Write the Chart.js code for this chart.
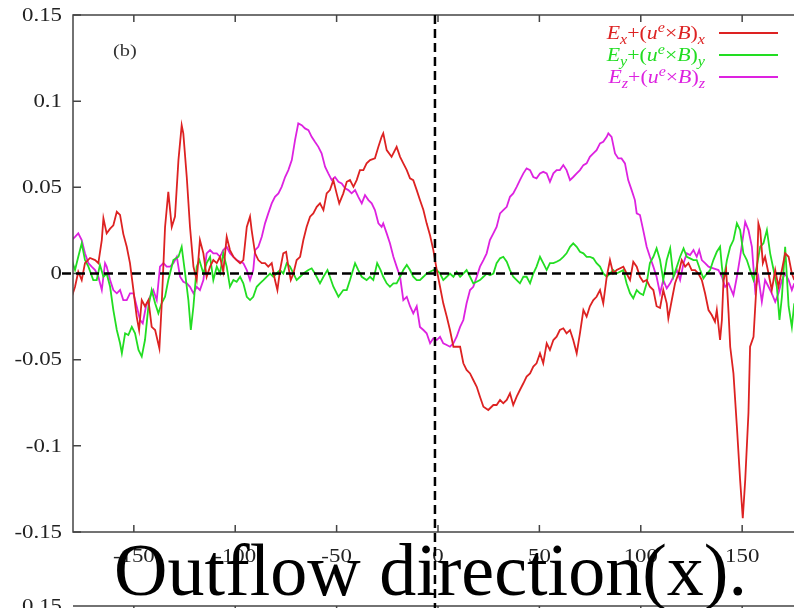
<!DOCTYPE html>
<html lang="en">
<head>
<meta charset="UTF-8">
<title>Outflow direction(x)</title>
<script src="https://cdn.jsdelivr.net/npm/chart.js"></script>
<style>
  html, body { margin: 0; padding: 0; overflow: hidden; background: #fff; }
  .wrap { position: relative; width: 810px; height: 608px; }
  .caption {
    position: absolute; left: 114px; top: 533px;
    font: 74px/1 "Liberation Serif", "Times New Roman", serif;
    color: #000; white-space: nowrap;
  }
</style>
</head>
<body>
<div class="wrap">
  <canvas id="c"></canvas>
  <div class="caption">Outflow direction(x).</div>
</div>
<script>
// ---- data ----
const xTicks = [-150, -100, -50, 0, 50, 100, 150];
const yTicks = [0.15, 0.1, 0.05, 0, -0.05, -0.1, -0.15];
const zeroMarkerX = -1.5;

const redX = [-180.6,-179.0,-177.4,-175.7,-174.1,-171.6,-169.1,-167.5,-165.8,-165.0,-163.4,-161.7,-160.1,-158.4,-156.8,-155.2,-153.5,-151.9,-150.2,-148.6,-147.4,-146.1,-144.5,-142.8,-141.2,-139.5,-137.4,-136.3,-134.6,-133.0,-131.3,-129.7,-128.0,-126.4,-125.6,-123.9,-122.3,-120.6,-119.0,-117.4,-115.7,-114.1,-112.4,-110.8,-109.1,-107.5,-105.9,-104.2,-102.6,-100.9,-99.3,-97.6,-96.0,-94.3,
  -92.7,-91.9,-90.2,-88.6,-86.9,-85.3,-83.7,-82.0,-80.4,-79.2,-77.9,-76.3,-74.9,-73.8,-72.6,-71.3,-69.7,-68.0,-66.4,-64.8,-63.1,-61.5,-59.8,-58.2,-56.5,-54.9,-53.3,-51.6,-50.0,-48.7,-46.7,-45.0,-43.4,-41.7,-40.1,-38.5,-36.8,-35.2,-33.5,-31.1,-29.4,-27.8,-27.0,-25.3,-22.9,-20.4,-18.7,-17.1,-15.4,-13.8,-12.2,-10.5,-8.9,-7.2,-5.6,
  -3.9,-2.3,-0.6,1.0,2.6,4.3,5.9,7.6,9.2,10.9,12.5,14.1,15.8,17.4,19.1,20.7,22.4,24.8,27.3,28.9,30.6,32.2,33.9,35.5,37.1,38.8,40.4,42.1,43.7,45.4,47.0,48.6,50.3,51.9,53.6,55.2,56.9,58.5,60.1,61.8,63.4,65.1,66.7,68.4,70.0,71.7,73.3,74.9,76.6,78.2,79.9,81.5,83.2,84.8,86.4,88.1,
  91.4,93.0,94.7,96.3,98.0,99.6,101.2,102.9,104.5,106.2,107.8,109.5,111.1,112.8,113.6,115.3,116.9,118.6,120.2,121.9,123.5,125.1,126.8,128.4,130.1,131.7,133.4,135.0,136.6,137.5,139.1,140.0,140.8,142.1,143.3,144.1,145.7,147.4,149.0,150.3,151.5,153.1,153.9,155.6,157.2,158.0,158.9,160.2,161.3,163.0,164.6,166.3,167.9,169.6,171.2,172.9,174.5,175.7];
const redY = [-0.0135,-0.0077,0.001,-0.0038,0.006,0.009,0.0078,0.006,0.0194,0.032,0.0233,0.026,0.028,0.0358,0.034,0.023,0.0155,0.006,-0.0096,-0.025,-0.0328,-0.0154,-0.019,-0.0154,-0.031,-0.0328,-0.0434,-0.019,0.027,0.0474,0.027,0.033,0.0658,0.086,0.0813,0.056,0.027,0.004,-0.0038,0.0194,0.0117,-0.0019,0.004,0.0078,0.006,0.0097,0.001,0.0213,0.0136,0.0097,0.0078,0.006,0.0078,0.027,
  0.033,0.0252,0.0117,0.0078,0.006,0.006,0.004,0.006,-0.0038,-0.0096,0.002,0.0117,0.0126,0.004,-0.0038,0,0.0078,0.0097,0.0194,0.027,0.033,0.0349,0.0387,0.0407,0.0368,0.0465,0.0484,0.0542,0.0465,0.0407,0.0465,0.0532,0.0542,0.0503,0.0542,0.06,0.06,0.0639,0.0658,0.0668,0.0735,0.0793,0.0813,0.0716,0.0677,0.0735,0.0677,0.0639,0.06,0.0552,0.0542,0.0484,0.0426,0.0368,0.0291,
  0.022,0.0136,0.002,-0.0077,-0.0173,-0.025,-0.0328,-0.0425,-0.0425,-0.0425,-0.0521,-0.056,-0.058,-0.0618,-0.0657,-0.0715,-0.0773,-0.0792,-0.0763,-0.0763,-0.0734,-0.0753,-0.0734,-0.0695,-0.0763,-0.0715,-0.0676,-0.0637,-0.0598,-0.058,-0.054,-0.0521,-0.0463,-0.0521,-0.0405,-0.0444,-0.0386,-0.0367,-0.0328,-0.0318,-0.0347,-0.0328,-0.0386,-0.0463,-0.0347,-0.0212,-0.025,-0.019,-0.0154,-0.0135,-0.0096,-0.0173,-0.0019,0.0078,0,0.002,
  0.004,0,-0.0038,0.0068,0.004,-0.0019,-0.0048,-0.0038,-0.0077,-0.0096,-0.019,-0.02,-0.0096,-0.0173,-0.026,-0.0154,-0.0057,0,0.0078,0.004,0.006,0.002,0.002,0,-0.0038,-0.0115,-0.0212,-0.0241,-0.028,-0.0212,-0.0386,-0.027,-0.0038,0.002,-0.0231,-0.0425,-0.058,-0.0889,-0.12,-0.142,-0.12,-0.081,-0.0425,-0.0367,-0.0038,0.0291,0.0252,0.006,0.0097,0,-0.0096,0.002,-0.0077,0.002,0.0117,0.0097,0,-0.0038];

const greenX = [-180.6,-179.0,-177.4,-175.7,-174.1,-172.4,-170.0,-168.3,-166.7,-165.0,-163.4,-161.7,-160.1,-158.4,-156.8,-155.9,-154.3,-152.7,-151.0,-149.4,-147.7,-146.1,-144.5,-142.8,-141.2,-139.5,-137.9,-136.3,-134.6,-133.0,-130.5,-128.0,-126.4,-124.7,-123.1,-121.9,-120.6,-119.0,-117.7,-115.7,-114.1,-112.4,-110.8,-109.1,-107.5,-105.9,-104.2,-102.6,-100.9,-99.3,-97.6,-96.0,-94.3,
  -92.7,-91.1,-89.4,-87.8,-86.1,-84.5,-82.8,-81.2,-79.6,-77.9,-76.3,-74.6,-73.0,-71.3,-69.7,-68.0,-66.4,-63.9,-62.3,-60.7,-58.2,-56.5,-54.5,-53.3,-51.6,-49.1,-46.7,-45.0,-43.4,-40.9,-39.3,-37.6,-35.2,-33.5,-31.9,-30.0,-28.3,-27.0,-25.3,-23.7,-22.0,-20.4,-18.7,-17.1,-15.4,-13.8,-12.2,-10.5,-8.9,-7.2,-5.6,
  -3.9,-2.3,-0.6,1.0,2.6,4.3,5.9,7.6,9.2,10.9,12.5,14.1,15.8,17.4,19.1,20.7,22.4,24.0,25.6,27.3,28.9,30.6,32.2,33.9,35.5,37.1,38.8,40.4,42.1,43.7,45.4,47.0,48.6,50.3,51.9,53.6,55.2,56.9,58.5,60.1,61.8,63.4,65.1,66.7,68.4,70.0,71.7,73.3,74.9,76.6,78.2,79.9,81.5,83.2,84.8,86.4,88.1,
  91.4,93.0,94.7,96.3,98.0,99.6,101.2,102.9,104.5,106.2,107.8,109.5,111.1,112.8,114.5,116.1,117.8,119.4,121.1,122.7,124.3,126.0,127.6,129.3,130.9,132.6,134.2,135.8,137.5,139.1,140.0,140.8,142.5,144.1,145.7,147.4,149.0,150.6,152.3,153.9,155.6,157.2,158.9,160.5,162.2,163.8,165.5,167.1,168.4,169.6,171.2,172.9,174.5,175.7];
const greenY = [0.0078,0.002,0.0097,0.0175,0.0078,0.004,-0.0038,-0.0038,0.005,-0.0019,0,-0.0077,-0.0212,-0.0328,-0.0405,-0.0463,-0.0347,-0.0357,-0.031,-0.0347,-0.0444,-0.0482,-0.0386,-0.019,-0.0096,-0.0173,-0.0231,-0.0173,-0.0135,-0.0038,0.0078,0.0097,0.0155,0,-0.0154,-0.0328,-0.019,0.004,0.0078,0,0.006,0.0097,-0.0038,0.004,0,0.0117,0.004,-0.0077,-0.0038,-0.0048,-0.0019,-0.0057,-0.0135,
  -0.0154,-0.0135,-0.0077,-0.0057,-0.0038,-0.0019,0,-0.0019,0,0.002,0,0.006,0.004,0,-0.0038,-0.0019,0,0.002,0.003,0,-0.0057,-0.0019,0.002,-0.0019,-0.0077,-0.0135,-0.0096,-0.0096,-0.0038,0.006,0.002,-0.0019,-0.0038,-0.0019,-0.0038,0.006,0.002,-0.0019,-0.0057,-0.0077,-0.0057,-0.0057,-0.0019,0.002,0.005,0.002,-0.0019,-0.0038,-0.0038,-0.0019,0,
  0.001,0.002,0.002,0,-0.0038,-0.0019,0,-0.0019,0.001,-0.0019,0,0.002,-0.0019,-0.0057,-0.0048,-0.0038,-0.0019,0,-0.001,0,0.006,0.0088,0.0097,0.0068,0.002,-0.0019,-0.0038,-0.0057,-0.0019,-0.0019,-0.0057,0,0.004,0.0097,0.006,0.002,0.006,0.006,0.0068,0.0078,0.0097,0.0117,0.0155,0.0175,0.0155,0.0126,0.0117,0.0097,0.0097,0.0088,0.006,0.004,0,-0.0019,0,0.002,0,
  0.002,-0.0057,-0.0115,-0.0144,-0.0096,-0.0115,-0.0125,-0.0057,0.006,0.0097,0.0146,0.0078,-0.0038,0.0078,0.0146,-0.0019,0.004,0.0097,0.0146,0.0097,0.0088,0.0078,0.0078,0.002,-0.0028,0,0.002,0.0078,0.0126,0.0155,0.004,-0.0038,0.0078,0.0155,0.0194,0.0291,0.0252,0.0117,0.0078,0.002,-0.0038,0.004,0.0155,0.0175,0.0252,0.0117,0.002,-0.0077,-0.027,-0.0135,0.0155,-0.019,-0.031,-0.0173];

const magX = [-180.6,-179.0,-177.4,-175.7,-174.1,-172.4,-170.8,-169.1,-167.5,-165.8,-164.2,-163.4,-161.7,-160.1,-158.4,-156.8,-155.2,-153.5,-151.9,-150.2,-148.6,-146.9,-145.6,-144.0,-142.0,-140.4,-138.7,-137.1,-135.4,-133.8,-132.1,-130.5,-128.8,-127.2,-125.6,-123.9,-122.3,-120.6,-119.0,-117.4,-115.7,-114.1,-112.4,-110.8,-109.1,-107.5,-105.9,-104.2,-102.6,-100.9,-99.3,-97.6,-96.0,-94.3,
  -92.7,-91.1,-90.2,-88.6,-86.9,-85.3,-83.7,-82.0,-80.4,-78.7,-77.1,-75.4,-73.8,-72.1,-70.5,-68.9,-67.2,-65.6,-63.9,-62.3,-60.7,-59.0,-57.4,-55.7,-54.1,-52.4,-50.8,-49.1,-47.5,-45.8,-44.2,-42.6,-40.9,-39.3,-37.6,-36.0,-34.3,-32.7,-31.1,-29.4,-27.8,-27.0,-25.3,-23.7,-22.0,-20.4,-18.7,-17.1,-15.4,-13.8,-12.2,-10.5,-8.9,-7.2,-5.6,
  -3.9,-2.3,-0.6,1.0,2.6,4.3,5.9,7.6,9.2,10.9,12.5,14.1,15.8,17.4,19.1,20.7,22.4,24.0,25.6,27.3,28.9,30.6,32.2,33.9,35.5,37.1,38.8,40.4,42.1,43.7,45.4,47.0,48.6,50.3,51.9,53.6,55.2,56.9,58.5,60.1,61.8,63.4,65.1,66.7,68.4,70.0,71.7,73.3,74.9,76.6,78.2,79.9,81.5,83.2,84.0,85.6,87.3,88.9,90.5,92.2,93.8,
  95.5,97.1,98.0,99.6,101.2,102.9,104.5,106.2,107.8,109.5,111.1,112.8,114.5,116.1,117.8,119.4,121.1,122.7,124.3,126.0,127.6,128.8,130.1,131.7,133.4,135.8,138.3,140.0,141.6,143.3,145.7,147.4,149.0,151.5,153.1,154.8,156.4,158.0,159.7,161.3,163.0,164.6,166.3,167.9,169.6,171.2,172.9,174.5,175.7];
const magY = [0.0194,0.0213,0.0233,0.0194,0.0117,0.006,0.004,0.002,-0.0019,-0.0096,0.006,0.004,-0.0038,-0.0096,-0.0115,-0.0096,-0.0154,-0.0154,-0.0115,-0.0115,-0.019,-0.027,-0.0289,-0.019,-0.0135,-0.0096,-0.0154,0.004,0.006,0.004,0.004,0.006,0.0097,-0.0019,-0.0048,-0.0057,-0.0077,-0.0115,-0.0077,-0.0096,-0.0038,0.0117,0.0136,0.0117,0.0117,0.0097,0.0136,0.0155,0.0117,0.0097,0.0078,0.0068,0.006,0.002,
  -0.0038,0.002,0.0136,0.0155,0.0213,0.0291,0.0349,0.0407,0.0445,0.0465,0.0503,0.056,0.06,0.0658,0.0774,0.0871,0.0861,0.0842,0.0832,0.0793,0.0764,0.0735,0.0697,0.062,0.0581,0.0542,0.056,0.0532,0.0523,0.0494,0.0484,0.0465,0.0484,0.0445,0.0407,0.0455,0.0426,0.0407,0.0368,0.0291,0.027,0.0291,0.0233,0.0175,0.0097,0.004,-0.0019,-0.0154,-0.0135,-0.019,-0.0231,-0.019,-0.031,-0.0328,-0.0347,
  -0.0405,-0.0376,-0.0386,-0.0367,-0.0405,-0.0415,-0.0425,-0.0405,-0.0367,-0.031,-0.027,-0.0173,-0.0096,-0.0077,-0.0019,0.004,0.0078,0.0117,0.0194,0.0233,0.027,0.0349,0.0368,0.0387,0.0445,0.0465,0.0503,0.0542,0.0581,0.061,0.06,0.056,0.0552,0.0581,0.059,0.0581,0.0532,0.0581,0.06,0.06,0.0629,0.06,0.0542,0.056,0.0581,0.06,0.0629,0.0639,0.0677,0.0697,0.0716,0.0755,0.0764,0.0793,0.0813,0.0793,0.0697,0.0668,0.0668,0.0639,0.0542,
  0.0484,0.0426,0.0349,0.0339,0.0252,0.0155,0.0097,0.004,-0.0019,-0.0115,-0.0038,-0.0086,-0.0057,-0.0019,0.002,-0.0038,0.006,0.0117,0.0107,0.0136,0.0097,0.0136,0.0078,0.006,0.004,0.003,0.002,-0.0019,-0.0077,-0.0057,-0.0125,-0.0019,0.0097,0.0299,0.0252,0.0155,-0.0096,-0.0019,-0.0164,-0.0038,-0.0077,-0.0115,-0.0164,-0.0115,-0.0038,0,-0.0038,-0.0096,-0.0057];

const seriesColors = ['#dd2222', '#22dd22', '#dd22e0'];
const legendSubs = ['x', 'y', 'z'];

const pts = (xs, ys) => xs.map((v, i) => ({ x: v, y: ys[i] }));

// the figure's lettering is stretched sideways compared to plain Times
const serif = '"Liberation Serif", "Times New Roman", serif';
const stretch = 1.27;

function wideText(ctx, txt, x, y, align, sx) {
  ctx.save();
  ctx.translate(x, y);
  ctx.scale(sx, 1);
  ctx.textAlign = align;
  ctx.fillText(txt, 0, 0);
  ctx.restore();
}

function drawLegendRow(ctx, right, y, sub, color) {
  const parts = [
    { t: 'E', it: true }, { t: sub, it: true, s: 1 },
    { t: '+(' }, { t: 'u', it: true }, { t: 'e', it: true, s: -1 },
    { t: '×' }, { t: 'B', it: true }, { t: ')' }, { t: sub, it: true, s: 1 }
  ];
  const sx = 1.15;
  const fontOf = p => (p.it ? 'italic ' : '') + (p.s ? '14px ' : '19px ') + serif;
  let w = 0;
  parts.forEach(p => { ctx.font = fontOf(p); p.w = ctx.measureText(p.t).width * sx; w += p.w; });
  let x = right - w;
  ctx.fillStyle = color;
  ctx.textBaseline = 'alphabetic';
  parts.forEach(p => {
    ctx.font = fontOf(p);
    const dy = p.s === 1 ? 5 : p.s === -1 ? -7 : 0;
    wideText(ctx, p.t, x, y + 6 + dy, 'left', sx);
    x += p.w;
  });
}

const decor = {
  id: 'decor',
  afterDatasetsDraw(chart) {
    const { ctx, chartArea: a, scales: { x, y } } = chart;
    ctx.save();
    // frame
    ctx.strokeStyle = '#444';
    ctx.lineWidth = 1.5;
    ctx.strokeRect(a.left, a.top, a.right - a.left, a.bottom - a.top);
    // inward ticks
    ctx.beginPath();
    xTicks.forEach(v => {
      const px = x.getPixelForValue(v);
      ctx.moveTo(px, a.bottom); ctx.lineTo(px, a.bottom - 7);
      ctx.moveTo(px, a.top); ctx.lineTo(px, a.top + 7);
    });
    yTicks.forEach(v => {
      const py = y.getPixelForValue(v);
      ctx.moveTo(a.left, py); ctx.lineTo(a.left + 8, py);
      ctx.moveTo(a.right, py); ctx.lineTo(a.right - 8, py);
    });
    ctx.stroke();

    // tick labels
    ctx.fillStyle = '#222';
    ctx.font = '18px ' + serif;
    ctx.textBaseline = 'middle';
    yTicks.forEach(v => wideText(ctx, String(v), a.left - 11, y.getPixelForValue(v) + 1, 'right', stretch));
    xTicks.forEach(v => wideText(ctx, String(v), x.getPixelForValue(v), a.bottom + 25, 'center', stretch));

    // next panel's top edge peeking in at the bottom
    const nextTop = chart.height - 2;
    ctx.beginPath();
    ctx.moveTo(a.left, nextTop); ctx.lineTo(a.right, nextTop);
    xTicks.forEach(v => {
      const px = x.getPixelForValue(v);
      ctx.moveTo(px, nextTop); ctx.lineTo(px, nextTop + 8);
    });
    ctx.stroke();
    wideText(ctx, '0.15', a.left - 11, nextTop + 1, 'right', stretch);

    // dashed zero lines
    ctx.strokeStyle = '#000';
    ctx.lineWidth = 2.5;
    ctx.setLineDash([9, 5]);
    const y0 = y.getPixelForValue(0);
    ctx.beginPath(); ctx.moveTo(a.left - 11, y0); ctx.lineTo(a.right, y0); ctx.stroke();
    const x0 = x.getPixelForValue(zeroMarkerX);
    ctx.beginPath(); ctx.moveTo(x0, a.top); ctx.lineTo(x0, chart.height); ctx.stroke();
    ctx.setLineDash([]);

    // panel tag
    ctx.fillStyle = '#333';
    ctx.font = '17px ' + serif;
    ctx.textBaseline = 'middle';
    wideText(ctx, '(b)', a.left + 40, a.top + 37, 'left', 1.2);

    // legend
    seriesColors.forEach((c, i) => {
      const ly = a.top + 18 + i * 22;
      drawLegendRow(ctx, 705, ly, legendSubs[i], c);
      ctx.strokeStyle = c;
      ctx.lineWidth = 2;
      ctx.beginPath(); ctx.moveTo(719, ly); ctx.lineTo(778, ly); ctx.stroke();
    });
    ctx.restore();
  }
};

const line = (xs, ys, color) => ({
  data: pts(xs, ys),
  borderColor: color,
  borderWidth: 1.8,
  pointRadius: 0,
  tension: 0,
  fill: false
});

new Chart(document.getElementById('c'), {
  type: 'line',
  data: {
    datasets: [
      line(redX, redY, seriesColors[0]),
      line(greenX, greenY, seriesColors[1]),
      line(magX, magY, seriesColors[2])
    ]
  },
  options: {
    responsive: true,
    maintainAspectRatio: false,
    animation: false,
    parsing: false,
    layout: { padding: { left: 1, right: 7, top: 15, bottom: 0 } },
    plugins: { legend: { display: false }, tooltip: { enabled: false } },
    scales: {
      x: {
        type: 'linear',
        min: -180, max: 180,
        grid: { display: false, drawTicks: false },
        border: { display: false },
        afterBuildTicks: s => { s.ticks = xTicks.map(v => ({ value: v })); },
        afterFit: s => { s.height = 76; },
        ticks: { display: false }
      },
      y: {
        type: 'linear',
        min: -0.15, max: 0.15,
        grid: { display: false, drawTicks: false },
        border: { display: false },
        afterBuildTicks: s => { s.ticks = yTicks.map(v => ({ value: v })); },
        afterFit: s => { s.width = 72; },
        ticks: { display: false }
      }
    }
  },
  plugins: [decor]
});
</script>
</body>
</html>
